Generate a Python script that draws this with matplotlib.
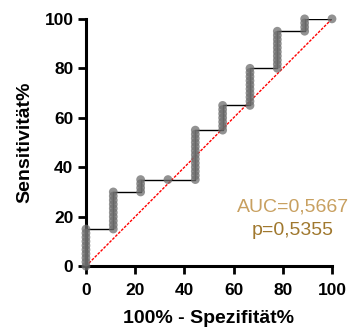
import numpy as np
import matplotlib
matplotlib.use('Agg')
import matplotlib.pyplot as plt

plt.rcParams['font.family'] = ['Liberation Sans', 'DejaVu Sans']

# ROC points: false positives (of 9 controls) and true positives (of 60 cases)
fp = [0, 0, 0, 0, 0, 0, 0, 0, 0, 0,
      1, 1, 1, 1, 1, 1, 1, 1, 1, 1,
      2, 2, 2, 2,
      3,
      4, 4, 4, 4, 4, 4, 4, 4, 4, 4, 4, 4, 4,
      5, 5, 5, 5, 5, 5, 5,
      6, 6, 6, 6, 6, 6, 6, 6, 6, 6,
      7, 7, 7, 7, 7, 7, 7, 7, 7, 7,
      8, 8, 8, 8,
      9]
tp = [0, 1, 2, 3, 4, 5, 6, 7, 8, 9,
      9, 10, 11, 12, 13, 14, 15, 16, 17, 18,
      18, 19, 20, 21,
      21,
      21, 22, 23, 24, 25, 26, 27, 28, 29, 30, 31, 32, 33,
      33, 34, 35, 36, 37, 38, 39,
      39, 40, 41, 42, 43, 44, 45, 46, 47, 48,
      48, 49, 50, 51, 52, 53, 54, 55, 56, 57,
      57, 58, 59, 60,
      60]
n_neg = 9
n_pos = 60

x = np.array(fp) / n_neg * 100
y = np.array(tp) / n_pos * 100

fig = plt.figure(figsize=(3.48, 3.31), dpi=100)
ax = fig.add_axes([0.247, 0.196, 0.707, 0.747])

ax.plot([0, 100], [0, 100], color='red', lw=1.0, ls=(0, (2, 1)), zorder=1)
ax.plot(x, y, color='black', lw=1.0, zorder=2)
ax.scatter(x, y, s=40, color='#6e6e6e', alpha=0.75, edgecolors='none', zorder=3, clip_on=False)

ax.set_xlim(0, 100)
ax.set_ylim(0, 100)
ax.set_xticks([0, 20, 40, 60, 80, 100])
ax.set_yticks([0, 20, 40, 60, 80, 100])

for s in ['top', 'right']:
    ax.spines[s].set_visible(False)
for s in ['left', 'bottom']:
    ax.spines[s].set_linewidth(2.2)
ax.tick_params(width=2, length=6, labelsize=12.5)
ax.tick_params(axis='x', pad=6)
ax.tick_params(axis='y', pad=3)
for lab in ax.get_xticklabels() + ax.get_yticklabels():
    lab.set_fontweight('bold')

ax.set_xlabel('100% - Spezifität%', fontsize=14, fontweight='bold', labelpad=9)
ax.set_ylabel('Sensitivität%', fontsize=14, fontweight='bold', labelpad=8)

ax.text(84, 24, 'AUC=0,5667', color='#c8a060', fontsize=14, ha='center', va='center')
ax.text(84, 14.5, 'p=0,5355', color='#a0782e', fontsize=14, ha='center', va='center')

fig.savefig('out.png', dpi=100)
